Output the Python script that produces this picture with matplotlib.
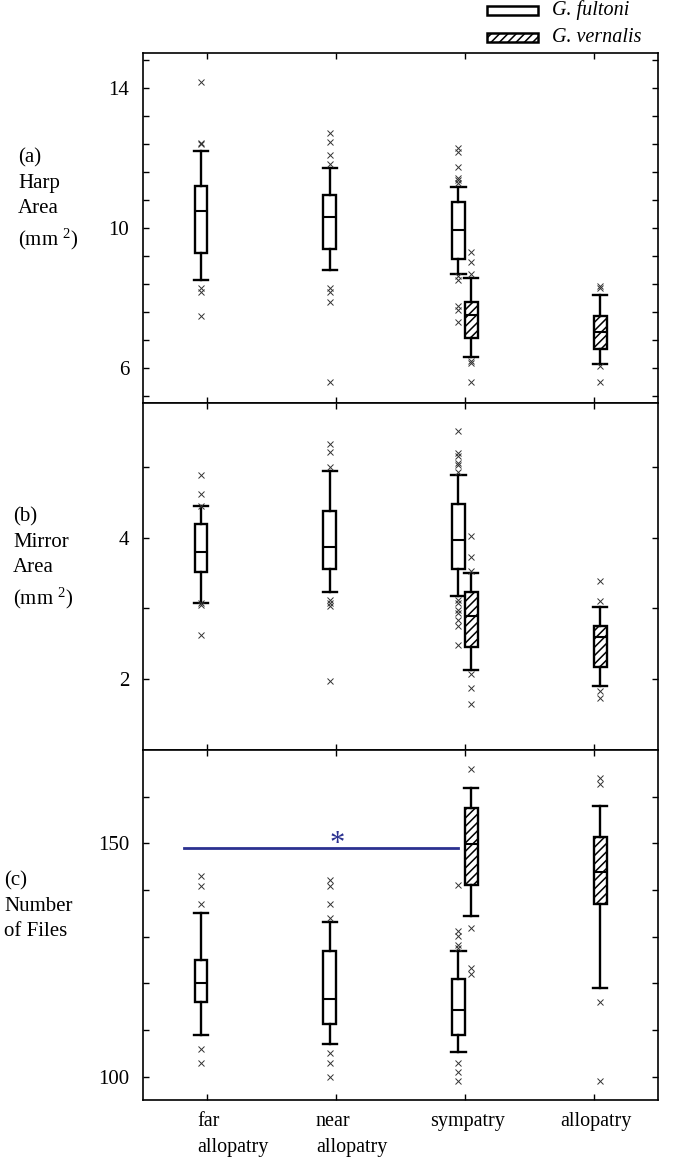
import numpy as np
import matplotlib.pyplot as plt
from matplotlib.patches import Rectangle

plt.rcParams['font.family'] = ['Liberation Serif', 'DejaVu Serif']
plt.rcParams['mathtext.fontset'] = 'custom'
plt.rcParams['mathtext.rm'] = 'Liberation Serif'
plt.rcParams['mathtext.it'] = 'Liberation Serif:italic'
plt.rcParams['hatch.linewidth'] = 1.1

sites = ['far\nallopatry', 'near\nallopatry', 'sympatry', 'allopatry']
ful_sites = [1, 2, 3]
ver_sites = [3, 4]

# box stats: (whislo, q1, med, q3, whishi)
harp_ful = [(8.5, 9.29, 10.49, 11.2, 12.19),
            (8.79, 9.4, 10.31, 10.94, 11.72),
            (8.69, 9.11, 9.95, 10.75, 11.16)]
harp_ful_out = [[14.16, 12.43, 12.39, 8.29, 8.18, 7.49],
                [12.71, 12.47, 12.08, 11.82, 8.28, 8.16, 7.89, 5.59],
                [12.29, 12.16, 11.75, 11.44, 11.36, 11.29, 8.64, 8.5, 7.78, 7.67, 7.3]]
harp_ver = [(6.32, 6.87, 7.5, 7.89, 8.58),
            (6.12, 6.53, 7.02, 7.48, 8.09)]
harp_ver_out = [[9.31, 9.04, 8.69, 6.21, 6.14, 5.61],
                [8.35, 8.29, 6.07, 5.59]]

mirror_ful = [(3.08, 3.52, 3.79, 4.19, 4.45),
              (3.23, 3.56, 3.87, 4.37, 4.94),
              (3.18, 3.55, 3.97, 4.47, 4.89)]
mirror_ful_out = [[4.88, 4.62, 4.45, 3.07, 3.05, 2.62],
                  [5.32, 5.21, 4.99, 3.12, 3.07, 3.03, 1.97],
                  [5.5, 5.19, 5.15, 5.05, 5.02, 4.92, 3.12, 3.07, 2.98, 2.94, 2.84, 2.75, 2.48]]
mirror_ver = [(2.13, 2.46, 2.89, 3.23, 3.5),
              (1.9, 2.17, 2.6, 2.75, 3.02)]
mirror_ver_out = [[4.02, 3.73, 3.53, 2.07, 1.88, 1.65],
                  [3.38, 3.11, 1.83, 1.73]]

files_ful = [(109.0, 115.9, 120.0, 125.0, 135.1),
             (107.1, 111.2, 116.6, 127.0, 133.1),
             (105.2, 109.0, 114.2, 121.0, 126.9)]
files_ful_out = [[142.9, 140.9, 137.0, 106.0, 103.0],
                 [142.1, 140.9, 137.0, 133.9, 105.0, 103.0, 100.0],
                 [141.0, 131.2, 130.2, 128.3, 127.5, 103.0, 101.1, 99.0]]
files_ver = [(134.4, 141.0, 149.8, 157.5, 161.9),
             (118.9, 137.0, 143.8, 151.3, 158.0)]
files_ver_out = [[165.9, 131.9, 123.2, 121.9],
                 [164.0, 162.8, 115.9, 99.1]]

# significance bar in panel (c)
sig_x = [0.82, 2.95]
sig_y = 148.9


def stats(boxes, outs):
    return [dict(whislo=b[0], q1=b[1], med=b[2], q3=b[3], whishi=b[4], fliers=o)
            for b, o in zip(boxes, outs)]


def draw(ax, ful, ful_out, ver, ver_out):
    common = dict(widths=0.1, capwidths=0.11, patch_artist=True,
                  medianprops=dict(color='black', lw=1.5),
                  whiskerprops=dict(color='black', lw=1.7),
                  capprops=dict(color='black', lw=1.7),
                  flierprops=dict(marker='x', ms=4.2, mec='#333333', mew=0.7, ls='none'))
    ax.bxp(stats(ful, ful_out), positions=np.array(ful_sites) - 0.05,
           boxprops=dict(facecolor='white', edgecolor='black', lw=1.7), **common)
    ax.bxp(stats(ver, ver_out), positions=np.array(ver_sites) + 0.05,
           boxprops=dict(facecolor='white', edgecolor='black', lw=1.7, hatch='////'), **common)
    ax.set_xlim(0.5, 4.5)
    ax.set_xticks([1, 2, 3, 4])
    ax.set_xticklabels([])
    ax.tick_params(direction='in', top=True, right=True, length=4, width=1,
                   labelsize=15, pad=10)
    for s in ax.spines.values():
        s.set_linewidth(1.2)


fig = plt.figure(figsize=(6.85, 11.6), dpi=100)
L, W = 143 / 685, 515 / 685
a = fig.add_axes([L, 1 - 403 / 1160, W, 350 / 1160])
b = fig.add_axes([L, 1 - 750 / 1160, W, 347 / 1160])
c = fig.add_axes([L, 1 - 1100 / 1160, W, 350 / 1160])

draw(a, harp_ful, harp_ful_out, harp_ver, harp_ver_out)
a.set_ylim(5.0, 15.0)
yt = np.round(np.arange(5.2, 15.0, 0.8), 1)
a.set_yticks(yt)
a.set_yticklabels([str(int(v)) if v in (6.0, 10.0, 14.0) else '' for v in yt])

draw(b, mirror_ful, mirror_ful_out, mirror_ver, mirror_ver_out)
b.set_ylim(1.0, 5.9)
b.set_yticks([1, 2, 3, 4, 5])
b.set_yticklabels(['', '2', '', '4', ''])

draw(c, files_ful, files_ful_out, files_ver, files_ver_out)
c.set_ylim(95, 170)
c.set_yticks(np.arange(100, 170, 10))
c.set_yticklabels(['100', '', '', '', '', '150', ''])
c.plot(sig_x, [sig_y, sig_y], color='#2b3190', lw=2)
c.text(np.mean(sig_x) + 0.12, sig_y - 0.7, '*', color='#2b3190', fontsize=22,
       ha='center', va='baseline')

label_dx = [0.2, 0.12, 0.02, 0.02]
for i, s in enumerate(sites):
    c.text(i + 1 + label_dx[i], -0.035, s, transform=c.get_xaxis_transform(),
           ha='center', va='top', multialignment='left', fontsize=14.5, linespacing=1.5)

fig.text(18 / 685, 1 - 200 / 1160, '(a)\nHarp\nArea\n(mm $^{2}$)', fontsize=15,
         ha='left', va='center', linespacing=1.45)
fig.text(13 / 685, 1 - 559 / 1160, '(b)\nMirror\nArea\n(mm $^{2}$)', fontsize=15,
         ha='left', va='center', linespacing=1.45)
fig.text(4 / 685, 1 - 906 / 1160, '(c)\nNumber\nof Files', fontsize=15,
         ha='left', va='center', linespacing=1.45)

# legend
for row, (name, h) in enumerate([('G. fultoni', None), ('G. vernalis', '////')]):
    yc = 1 - (10 + 27 * row) / 1160
    fig.add_artist(Rectangle((487 / 685, yc - 4.5 / 1160), 51 / 685, 9 / 1160,
                             transform=fig.transFigure, facecolor='white',
                             edgecolor='black', lw=1.8, hatch=h))
    fig.text(552 / 685, yc, name, fontsize=14.5, style='italic', ha='left', va='center')

fig.savefig('out.png', dpi=100)
